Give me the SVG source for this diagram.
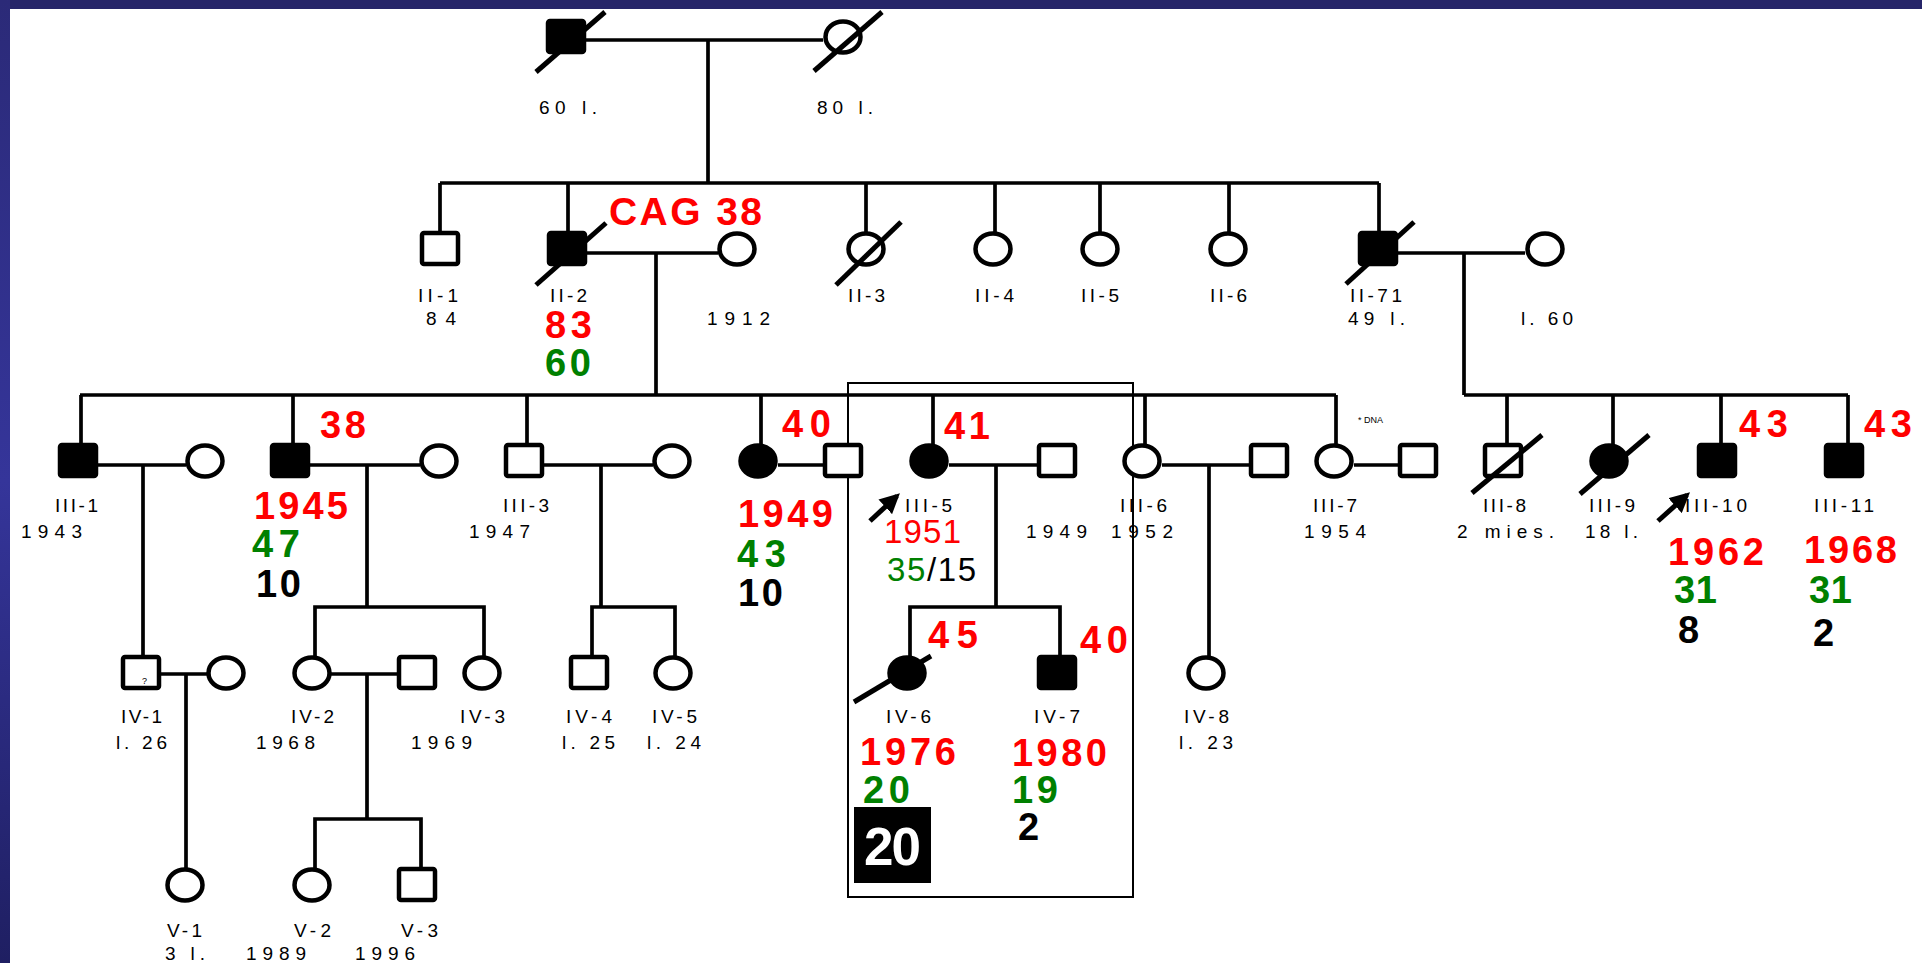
<svg xmlns="http://www.w3.org/2000/svg" width="1922" height="963" viewBox="0 0 1922 963">
<defs>
<linearGradient id="sideg" x1="0" y1="0" x2="0" y2="1">
<stop offset="0" stop-color="#2b2a78"/><stop offset="0.5" stop-color="#35359a"/><stop offset="1" stop-color="#1f1f62"/>
</linearGradient>
<marker id="arr" viewBox="0 0 10 10" refX="8" refY="5" markerWidth="4" markerHeight="4" orient="auto" markerUnits="strokeWidth">
<path d="M0,0 L10,5 L0,10 z" fill="#000"/>
</marker>
<style>
.sh{stroke:#000;stroke-width:4.5;fill:#fff}
.af{fill:#000}
.ln{stroke:#000;stroke-width:3.7;fill:none}
.bx{stroke:#000;stroke-width:2;fill:none}
.sl{stroke:#000;stroke-width:5}
.ar{stroke:#000;stroke-width:5;marker-end:url(#arr)}
.lb{font-family:"Liberation Sans",Arial,sans-serif;font-size:19px;fill:#000}
.bg{font-family:"Liberation Sans",Arial,sans-serif;font-weight:bold;font-size:38px}
.cag{font-size:39px}
.huge{font-size:53px}
.rg{font-family:"Liberation Sans",Arial,sans-serif;font-size:33px}
.r{fill:#ff0000}.g{fill:#008000}.k{fill:#000}.w{fill:#fff}
.tiny{font-family:"Liberation Sans",Arial,sans-serif;font-size:9px;fill:#000}
</style>
</defs>

<g id="background">
<rect x="0" y="0" width="1922" height="963" fill="#fff"/>
<rect x="0" y="0" width="1922" height="9" fill="#262569"/>
<rect x="0" y="0" width="10" height="963" fill="url(#sideg)"/>
</g>

<g id="connectors">
<path class="ln" d="M586 40 H823 M708 40 V183"/>
<path class="ln" d="M440 183 H1379 M440 183 V232 M568 183 V232 M866 183 V232 M995 183 V232 M1100 183 V232 M1229 183 V232 M1379 183 V232"/>
<path class="ln" d="M587 253 H718 M656 253 V395"/>
<path class="ln" d="M1398 253 H1525 M1464 253 V395"/>
<path class="ln" d="M80 395 H1336 M81 395 V444 M293 395 V444 M527 395 V444 M761 395 V444 M933 395 V444 M1145 395 V444 M1336 395 V444"/>
<path class="ln" d="M1464 395 H1848 M1507 395 V444 M1613 395 V444 M1721 395 V444 M1848 395 V444"/>
<path class="ln" d="M98 465 H186 M310 465 H420 M544 465 H653 M778 465 H824 M949 465 H1038 M1162 465 H1250 M1354 465 H1399"/>
<path class="ln" d="M143 465 V656 M367 465 V607 M315 656 V607 H484 V656 M601 465 V607 M592 656 V607 H675 V656 M996 465 V607 M910 656 V607 H1060 V656 M1209 465 V656"/>
<path class="ln" d="M161 674 H207 M331 674 H398 M186 674 V868 M367 674 V819 M315 868 V819 H421 V868"/>
<rect class="bx" x="848" y="383" width="285" height="514"/>
<line class="ar" x1="870" y1="521" x2="897" y2="496"/>
<line class="ar" x1="1658" y1="521" x2="1687" y2="495"/>
</g>

<g id="I-1">
<rect class="sh af" x="548" y="21" width="36" height="31" rx="2"/>
<line class="sl" x1="536" y1="72" x2="605" y2="12"/>
<text class="lb" x="539" y="114" textLength="58" lengthAdjust="spacing">60 l.</text>
</g>
<g id="I-2">
<ellipse class="sh" cx="843" cy="37" rx="17.5" ry="15.5"/>
<line class="sl" x1="814" y1="71" x2="882" y2="12"/>
<text class="lb" x="817" y="114" textLength="56" lengthAdjust="spacing">80 l.</text>
</g>

<g id="II-1">
<rect class="sh" x="422" y="233" width="36" height="31" rx="2"/>
<text class="lb" x="418" y="302" textLength="40" lengthAdjust="spacing">II-1</text>
<text class="lb" x="426" y="325" textLength="30" lengthAdjust="spacing">84</text>
</g>
<g id="II-2">
<rect class="sh af" x="549" y="233" width="36" height="31" rx="2"/>
<line class="sl" x1="536" y1="285" x2="606" y2="223"/>
<text class="bg cag r" x="609" y="225" textLength="153" lengthAdjust="spacing">CAG 38</text>
<text class="lb" x="550" y="302" textLength="37" lengthAdjust="spacing">II-2</text>
<text class="bg r" x="545" y="338" textLength="47" lengthAdjust="spacing">83</text>
<text class="bg g" x="545" y="376" textLength="46" lengthAdjust="spacing">60</text>
</g>
<g id="II-2-spouse">
<ellipse class="sh" cx="737" cy="249" rx="17.5" ry="15.5"/>
<text class="lb" x="707" y="325" textLength="63" lengthAdjust="spacing">1912</text>
</g>
<g id="II-3">
<ellipse class="sh" cx="866" cy="249" rx="17.5" ry="15.5"/>
<line class="sl" x1="836" y1="285" x2="901" y2="222"/>
<text class="lb" x="848" y="302" textLength="37" lengthAdjust="spacing">II-3</text>
</g>
<g id="II-4">
<ellipse class="sh" cx="993" cy="249" rx="17.5" ry="15.5"/>
<text class="lb" x="975" y="302" textLength="39" lengthAdjust="spacing">II-4</text>
</g>
<g id="II-5">
<ellipse class="sh" cx="1100" cy="249" rx="17.5" ry="15.5"/>
<text class="lb" x="1081" y="302" textLength="38" lengthAdjust="spacing">II-5</text>
</g>
<g id="II-6">
<ellipse class="sh" cx="1228" cy="249" rx="17.5" ry="15.5"/>
<text class="lb" x="1210" y="302" textLength="37" lengthAdjust="spacing">II-6</text>
</g>
<g id="II-7">
<rect class="sh af" x="1360" y="233" width="36" height="31" rx="2"/>
<line class="sl" x1="1346" y1="284" x2="1414" y2="222"/>
<text class="lb" x="1350" y="302" textLength="52" lengthAdjust="spacing">II-71</text>
<text class="lb" x="1348" y="325" textLength="57" lengthAdjust="spacing">49 l.</text>
</g>
<g id="II-7-spouse">
<ellipse class="sh" cx="1545" cy="249" rx="17.5" ry="15.5"/>
<text class="lb" x="1521" y="325" textLength="52" lengthAdjust="spacing">l. 60</text>
</g>

<g id="III-1">
<rect class="sh af" x="60" y="445" width="36" height="31" rx="2"/>
<text class="lb" x="55" y="512" textLength="43" lengthAdjust="spacing">III-1</text>
<text class="lb" x="21" y="538" textLength="61" lengthAdjust="spacing">1943</text>
</g>
<g id="III-1-spouse"><ellipse class="sh" cx="205" cy="461" rx="17.5" ry="15.5"/></g>
<g id="III-2">
<rect class="sh af" x="272" y="445" width="36" height="31" rx="2"/>
<text class="bg r" x="320" y="438" textLength="46" lengthAdjust="spacing">38</text>
<text class="bg r" x="254" y="519" textLength="94" lengthAdjust="spacing">1945</text>
<text class="bg g" x="252" y="557" textLength="48" lengthAdjust="spacing">47</text>
<text class="bg k" x="256" y="597" textLength="45" lengthAdjust="spacing">10</text>
</g>
<g id="III-2-spouse"><ellipse class="sh" cx="439" cy="461" rx="17.5" ry="15.5"/></g>
<g id="III-3">
<rect class="sh" x="506" y="445" width="36" height="31" rx="2"/>
<text class="lb" x="503" y="512" textLength="46" lengthAdjust="spacing">III-3</text>
<text class="lb" x="469" y="538" textLength="61" lengthAdjust="spacing">1947</text>
</g>
<g id="III-3-spouse"><ellipse class="sh" cx="672" cy="461" rx="17.5" ry="15.5"/></g>
<g id="III-4">
<ellipse class="sh af" cx="758" cy="461" rx="17.5" ry="15.5"/>
<text class="bg r" x="782" y="437" textLength="49" lengthAdjust="spacing">40</text>
<text class="bg r" x="738" y="527" textLength="95" lengthAdjust="spacing">1949</text>
<text class="bg g" x="737" y="567" textLength="49" lengthAdjust="spacing">43</text>
<text class="bg k" x="738" y="606" textLength="45" lengthAdjust="spacing">10</text>
</g>
<g id="III-4-spouse"><rect class="sh" x="825" y="445" width="36" height="31" rx="2"/></g>
<g id="III-5">
<ellipse class="sh af" cx="929" cy="461" rx="17.5" ry="15.5"/>
<text class="bg r" x="944" y="439" textLength="46" lengthAdjust="spacing">41</text>
<text class="lb" x="905" y="512" textLength="47" lengthAdjust="spacing">III-5</text>
<text class="rg r" x="884" y="543" textLength="77" lengthAdjust="spacing">1951</text>
<text class="rg" x="887" y="581" textLength="89" lengthAdjust="spacing"><tspan class="g">35</tspan><tspan class="k">/15</tspan></text>
</g>
<g id="III-5-spouse">
<rect class="sh" x="1039" y="445" width="36" height="31" rx="2"/>
<text class="lb" x="1026" y="538" textLength="61" lengthAdjust="spacing">1949</text>
</g>
<g id="III-6">
<ellipse class="sh" cx="1142" cy="461" rx="17.5" ry="15.5"/>
<text class="lb" x="1120" y="512" textLength="47" lengthAdjust="spacing">III-6</text>
<text class="lb" x="1111" y="538" textLength="62" lengthAdjust="spacing">1952</text>
</g>
<g id="III-6-spouse"><rect class="sh" x="1251" y="445" width="36" height="31" rx="2"/></g>
<g id="III-7">
<ellipse class="sh" cx="1334" cy="461" rx="17.5" ry="15.5"/>
<text class="tiny" x="1358" y="423">*  DNA</text>
<text class="lb" x="1313" y="512" textLength="44" lengthAdjust="spacing">III-7</text>
<text class="lb" x="1304" y="538" textLength="62" lengthAdjust="spacing">1954</text>
</g>
<g id="III-7-spouse"><rect class="sh" x="1400" y="445" width="36" height="31" rx="2"/></g>
<g id="III-8">
<rect class="sh" x="1485" y="445" width="36" height="31" rx="2"/>
<line class="sl" x1="1472" y1="493" x2="1542" y2="435"/>
<text class="lb" x="1483" y="512" textLength="43" lengthAdjust="spacing">III-8</text>
<text class="lb" x="1457" y="538" textLength="97" lengthAdjust="spacing">2 mies.</text>
</g>
<g id="III-9">
<ellipse class="sh af" cx="1609" cy="461" rx="17.5" ry="15.5"/>
<line class="sl" x1="1580" y1="494" x2="1649" y2="435"/>
<text class="lb" x="1589" y="512" textLength="46" lengthAdjust="spacing">III-9</text>
<text class="lb" x="1585" y="538" textLength="53" lengthAdjust="spacing">18 l.</text>
</g>
<g id="III-10">
<rect class="sh af" x="1699" y="445" width="36" height="31" rx="2"/>
<text class="bg r" x="1739" y="437" textLength="49" lengthAdjust="spacing">43</text>
<text class="lb" x="1685" y="512" textLength="62" lengthAdjust="spacing">III-10</text>
<text class="bg r" x="1668" y="565" textLength="96" lengthAdjust="spacing">1962</text>
<text class="bg g" x="1674" y="603" textLength="43" lengthAdjust="spacing">31</text>
<text class="bg k" x="1678" y="643">8</text>
</g>
<g id="III-11">
<rect class="sh af" x="1826" y="445" width="36" height="31" rx="2"/>
<text class="bg r" x="1864" y="437" textLength="48" lengthAdjust="spacing">43</text>
<text class="lb" x="1814" y="512" textLength="60" lengthAdjust="spacing">III-11</text>
<text class="bg r" x="1804" y="563" textLength="93" lengthAdjust="spacing">1968</text>
<text class="bg g" x="1809" y="603" textLength="43" lengthAdjust="spacing">31</text>
<text class="bg k" x="1813" y="646">2</text>
</g>

<g id="IV-1">
<rect class="sh" x="123" y="657" width="36" height="31" rx="2"/>
<text class="tiny" x="142" y="684">?</text>
<text class="lb" x="121" y="723" textLength="41" lengthAdjust="spacing">IV-1</text>
<text class="lb" x="116" y="749" textLength="51" lengthAdjust="spacing">l. 26</text>
</g>
<g id="IV-1-spouse"><ellipse class="sh" cx="226" cy="673" rx="17.5" ry="15.5"/></g>
<g id="IV-2">
<ellipse class="sh" cx="312" cy="673" rx="17.5" ry="15.5"/>
<text class="lb" x="291" y="723" textLength="43" lengthAdjust="spacing">IV-2</text>
<text class="lb" x="256" y="749" textLength="59" lengthAdjust="spacing">1968</text>
</g>
<g id="IV-2-spouse">
<rect class="sh" x="399" y="657" width="36" height="31" rx="2"/>
<text class="lb" x="411" y="749" textLength="61" lengthAdjust="spacing">1969</text>
</g>
<g id="IV-3">
<ellipse class="sh" cx="482" cy="673" rx="17.5" ry="15.5"/>
<text class="lb" x="460" y="723" textLength="45" lengthAdjust="spacing">IV-3</text>
</g>
<g id="IV-4">
<rect class="sh" x="571" y="657" width="36" height="31" rx="2"/>
<text class="lb" x="566" y="723" textLength="46" lengthAdjust="spacing">IV-4</text>
<text class="lb" x="562" y="749" textLength="53" lengthAdjust="spacing">l. 25</text>
</g>
<g id="IV-5">
<ellipse class="sh" cx="673" cy="673" rx="17.5" ry="15.5"/>
<text class="lb" x="652" y="723" textLength="45" lengthAdjust="spacing">IV-5</text>
<text class="lb" x="647" y="749" textLength="54" lengthAdjust="spacing">l. 24</text>
</g>
<g id="IV-6">
<ellipse class="sh af" cx="907" cy="673" rx="17.5" ry="15.5"/>
<line class="sl" x1="854" y1="702" x2="931" y2="656"/>
<text class="bg r" x="928" y="648" textLength="50" lengthAdjust="spacing">45</text>
<text class="lb" x="886" y="723" textLength="45" lengthAdjust="spacing">IV-6</text>
<text class="bg r" x="860" y="765" textLength="96" lengthAdjust="spacing">1976</text>
<text class="bg g" x="863" y="803" textLength="47" lengthAdjust="spacing">20</text>
<rect x="854" y="807" width="77" height="76" fill="#000"/>
<text class="bg huge w" x="864" y="865" textLength="57" lengthAdjust="spacing">20</text>
</g>
<g id="IV-7">
<rect class="sh af" x="1039" y="657" width="36" height="31" rx="2"/>
<text class="bg r" x="1080" y="653" textLength="48" lengthAdjust="spacing">40</text>
<text class="lb" x="1034" y="723" textLength="46" lengthAdjust="spacing">IV-7</text>
<text class="bg r" x="1012" y="766" textLength="95" lengthAdjust="spacing">1980</text>
<text class="bg g" x="1012" y="803" textLength="46" lengthAdjust="spacing">19</text>
<text class="bg k" x="1018" y="840">2</text>
</g>
<g id="IV-8">
<ellipse class="sh" cx="1206" cy="673" rx="17.5" ry="15.5"/>
<text class="lb" x="1184" y="723" textLength="45" lengthAdjust="spacing">IV-8</text>
<text class="lb" x="1179" y="749" textLength="54" lengthAdjust="spacing">l. 23</text>
</g>

<g id="V-1">
<ellipse class="sh" cx="185" cy="885" rx="17.5" ry="15.5"/>
<text class="lb" x="167" y="937" textLength="35" lengthAdjust="spacing">V-1</text>
<text class="lb" x="165" y="960" textLength="40" lengthAdjust="spacing">3 l.</text>
</g>
<g id="V-2">
<ellipse class="sh" cx="312" cy="885" rx="17.5" ry="15.5"/>
<text class="lb" x="294" y="937" textLength="37" lengthAdjust="spacing">V-2</text>
<text class="lb" x="246" y="960" textLength="60" lengthAdjust="spacing">1989</text>
</g>
<g id="V-3">
<rect class="sh" x="399" y="869" width="36" height="31" rx="2"/>
<text class="lb" x="401" y="937" textLength="37" lengthAdjust="spacing">V-3</text>
<text class="lb" x="355" y="960" textLength="60" lengthAdjust="spacing">1996</text>
</g>
</svg>
